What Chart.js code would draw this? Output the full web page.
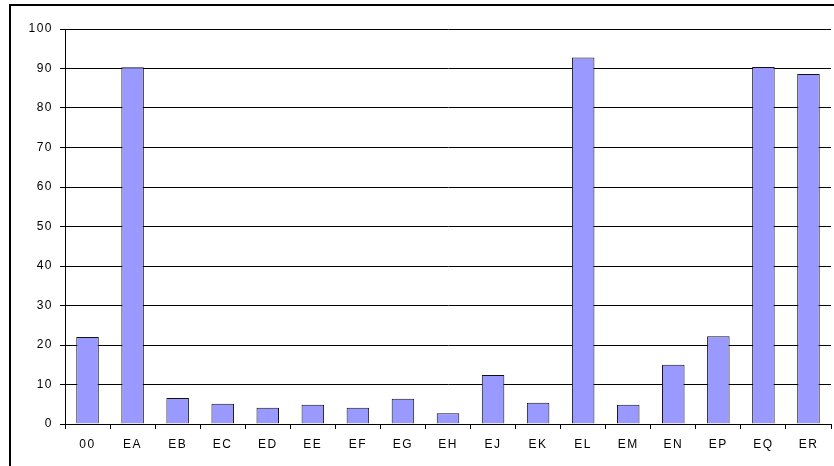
<!DOCTYPE html>
<html>
<head>
<meta charset="utf-8">
<script src="https://cdn.jsdelivr.net/npm/chart.js@4/dist/chart.umd.min.js"></script>
<style>
  html, body { margin: 0; padding: 0; background: #fff; overflow: hidden; }
  #frame {
    position: absolute; left: 9px; top: 4px; width: 840px; height: 470px;
    border-left: 2px solid #000; border-top: 2px solid #000;
  }
  #wrap { position: absolute; left: 11px; top: 6px; width: 823px; height: 460px; }
</style>
</head>
<body>
<div id="frame"></div>
<div id="wrap"><canvas id="chart"></canvas></div>
<script>
const categories = ['00', 'EA', 'EB', 'EC', 'ED', 'EE', 'EF', 'EG', 'EH', 'EJ', 'EK', 'EL', 'EM', 'EN', 'EP', 'EQ', 'ER'];
const values = [22.0, 90.3, 6.6, 5.1, 4.1, 4.9, 4.1, 6.4, 2.7, 12.4, 5.4, 92.8, 4.9, 15.0, 22.2, 90.4, 88.6];
const yTicks = [0, 10, 20, 30, 40, 50, 60, 70, 80, 90, 100];

// wider letter spacing, like the original labels
const spacing = {
  id: 'spacing',
  beforeLayout(chart) { chart.ctx.letterSpacing = '1.5px'; },
  beforeDraw(chart) { chart.ctx.letterSpacing = '1.5px'; }
};

const ctx = document.getElementById('chart').getContext('2d');
const chart = new Chart(ctx, {
  type: 'bar',
  data: {
    labels: categories,
    datasets: [{
      data: values,
      backgroundColor: '#9999ff',
      borderColor: '#111',
      borderWidth: 1,
      barPercentage: 0.5,
      categoryPercentage: 1
    }]
  },
  options: {
    responsive: true,
    maintainAspectRatio: false,
    animation: false,
    layout: { padding: { top: 23, right: 3, left: 0, bottom: 0 } },
    plugins: {
      legend: { display: false },
      tooltip: { enabled: false }
    },
    scales: {
      x: {
        offset: true,
        grid: { offset: true, drawOnChartArea: false, drawTicks: true, tickLength: 5, color: '#000' },
        border: { color: '#000', width: 1 },
        ticks: { color: '#000', padding: 8, maxRotation: 0, font: { family: 'Liberation Sans, Arial', size: 12 } },
        afterFit: (scale) => { scale.height = 42; }
      },
      y: {
        min: 0,
        max: 100,
        afterBuildTicks: (scale) => { scale.ticks = yTicks.map(v => ({ value: v })); },
        grid: { color: '#000', lineWidth: 1, tickLength: 5 },
        border: { color: '#000', width: 1 },
        ticks: { color: '#000', padding: 7, font: { family: 'Liberation Sans, Arial', size: 12 } },
        afterFit: (scale) => { scale.width = 54; }
      }
    }
  },
  plugins: [spacing]
});
</script>
</body>
</html>
